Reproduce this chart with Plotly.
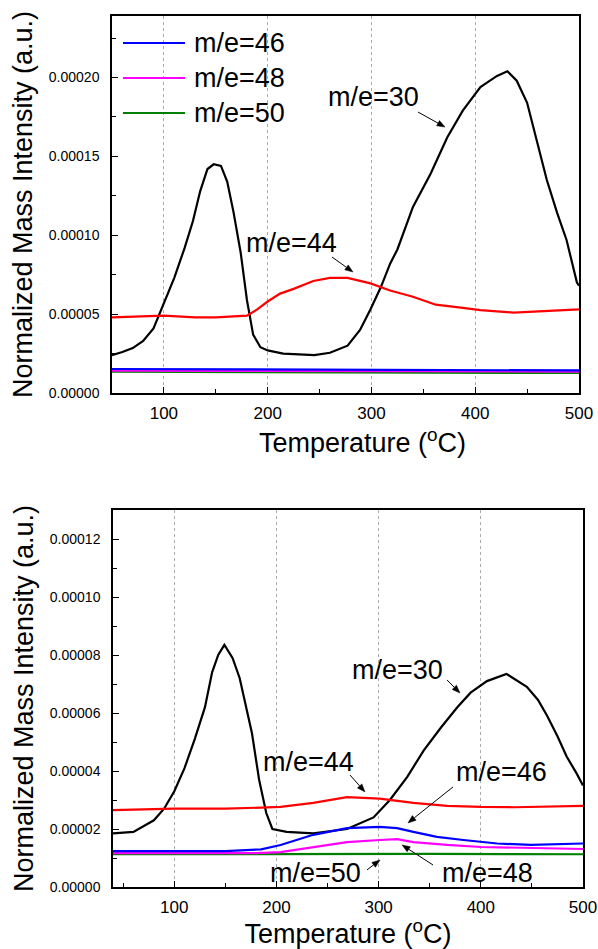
import math
import plotly.graph_objects as go

W, H = 598, 949
FONT = "Arial, 'Liberation Sans', sans-serif"

# ---------------- Top panel data ----------------
top_t30 = [50, 60, 70, 80, 90, 100, 110, 120, 128, 135, 142, 148, 155, 161, 167, 174, 180, 186, 193,
           200, 215, 245, 260, 277, 289, 299, 309, 318, 325, 340, 357, 373, 388, 405, 421, 431, 440,
           450, 460, 469, 479, 488, 498, 500]
top_v30 = [2.4e-5, 2.6e-5, 2.85e-5, 3.3e-5, 4.1e-5, 5.7e-5, 7.3e-5, 9.2e-5, 1.09e-4, 1.28e-4, 1.42e-4,
           1.45e-4, 1.44e-4, 1.34e-4, 1.15e-4, 8.9e-5, 5.9e-5, 3.7e-5, 2.9e-5, 2.7e-5, 2.5e-5, 2.4e-5,
           2.55e-5, 3.0e-5, 4.0e-5, 5.3e-5, 6.7e-5, 8.2e-5, 9.1e-5, 1.18e-4, 1.39e-4, 1.62e-4, 1.79e-4,
           1.94e-4, 2.01e-4, 2.04e-4, 1.98e-4, 1.84e-4, 1.58e-4, 1.35e-4, 1.14e-4, 9.7e-5, 7.0e-5, 6.8e-5]

top_t44 = [50, 100, 130, 150, 180, 190, 200, 212, 225, 244, 260, 277, 299, 318, 340, 362, 388, 405, 437, 469, 500]
top_v44 = [4.8e-5, 4.9e-5, 4.8e-5, 4.8e-5, 4.9e-5, 5.3e-5, 5.8e-5, 6.3e-5, 6.6e-5, 7.1e-5, 7.3e-5,
           7.3e-5, 6.95e-5, 6.5e-5, 6.1e-5, 5.6e-5, 5.4e-5, 5.25e-5, 5.1e-5, 5.2e-5, 5.3e-5]

top_t46 = [50, 200, 350, 500]
top_v46 = [1.52e-5, 1.5e-5, 1.47e-5, 1.43e-5]
top_t48 = [50, 250, 500]
top_v48 = [1.42e-5, 1.40e-5, 1.36e-5]
top_t50 = [50, 250, 500]
top_v50 = [1.35e-5, 1.32e-5, 1.27e-5]

# ---------------- Bottom panel data ----------------
bot_t30 = [40, 60, 80, 90, 100, 110, 120, 130, 137, 143, 149, 157, 164, 170, 176, 183, 190, 196, 210,
           236, 269, 295, 311, 328, 344, 361, 377, 390, 406, 425, 445, 456, 465, 475, 484, 494, 500]
bot_v30 = [1.85e-5, 1.9e-5, 2.3e-5, 2.7e-5, 3.3e-5, 4.1e-5, 5.1e-5, 6.2e-5, 7.4e-5, 8.0e-5, 8.35e-5,
           7.9e-5, 7.2e-5, 6.3e-5, 5.3e-5, 3.7e-5, 2.55e-5, 2.0e-5, 1.9e-5, 1.85e-5, 2.0e-5, 2.4e-5,
           3.0e-5, 3.8e-5, 4.7e-5, 5.5e-5, 6.2e-5, 6.7e-5, 7.1e-5, 7.35e-5, 6.9e-5, 6.45e-5, 5.9e-5,
           5.2e-5, 4.5e-5, 3.9e-5, 3.5e-5]

bot_t44 = [40, 100, 150, 204, 236, 269, 301, 334, 367, 400, 433, 500]
bot_v44 = [2.65e-5, 2.7e-5, 2.7e-5, 2.76e-5, 2.9e-5, 3.1e-5, 3.05e-5, 2.9e-5, 2.8e-5, 2.76e-5, 2.75e-5, 2.8e-5]

bot_t46 = [40, 150, 185, 204, 236, 269, 301, 318, 334, 357, 383, 416, 449, 500]
bot_v46 = [1.24e-5, 1.24e-5, 1.3e-5, 1.45e-5, 1.8e-5, 2.03e-5, 2.07e-5, 2.03e-5, 1.9e-5, 1.73e-5,
           1.62e-5, 1.5e-5, 1.45e-5, 1.5e-5]

bot_t48 = [40, 180, 204, 236, 269, 301, 318, 334, 367, 400, 449, 500]
bot_v48 = [1.17e-5, 1.17e-5, 1.2e-5, 1.38e-5, 1.55e-5, 1.62e-5, 1.65e-5, 1.55e-5, 1.45e-5, 1.38e-5,
           1.34e-5, 1.31e-5]

bot_t50 = [40, 200, 350, 500]
bot_v50 = [1.13e-5, 1.14e-5, 1.14e-5, 1.13e-5]

X_TITLE = "Temperature (<sup>o</sup>C)"
Y_TITLE = "Normalized Mass Intensity (a.u.)"

COL = {"30": "#000000", "44": "#ff0000", "46": "#0000ff", "48": "#ff00ff", "50": "#008000"}

# panel geometry (pixels) and axis ranges
TOP = dict(xdom=(112, 579), ydom=(16, 393), xr=(50, 500), yr=(0, 0.000239))
BOT = dict(xdom=(113, 583), ydom=(510, 887), xr=(40, 500), yr=(0, 0.00013))

fig = go.Figure()

def add(t, v, key, xa, ya):
    fig.add_trace(go.Scatter(x=t, y=v, mode="lines", xaxis=xa, yaxis=ya,
                             line=dict(color=COL[key], width=2.2), name=f"m/e={key}",
                             showlegend=False, hoverinfo="skip"))

add(top_t30, top_v30, "30", "x", "y")
add(top_t44, top_v44, "44", "x", "y")
add(top_t50, top_v50, "50", "x", "y")
add(top_t48, top_v48, "48", "x", "y")
add(top_t46, top_v46, "46", "x", "y")

add(bot_t30, bot_v30, "30", "x2", "y2")
add(bot_t44, bot_v44, "44", "x2", "y2")
add(bot_t50, bot_v50, "50", "x2", "y2")
add(bot_t48, bot_v48, "48", "x2", "y2")
add(bot_t46, bot_v46, "46", "x2", "y2")

big = dict(family=FONT, size=27, color="black")

xcommon = dict(showline=True, linecolor="black", linewidth=1.5, mirror=True,
               ticks="inside", ticklen=6, tickwidth=1, tickcolor="black",
               tickfont=dict(family=FONT, size=17, color="black"),
               showgrid=True, gridcolor="#aaaaaa", griddash="3px,3px", gridwidth=1,
               zeroline=False, tickmode="linear", tick0=0, dtick=100,
               minor=dict(ticks="inside", ticklen=4, tick0=0, dtick=50, tickcolor="black", showgrid=False),
               automargin=False, ticklabelstandoff=4)
ycommon = dict(showline=True, linecolor="black", linewidth=1.5, mirror=True,
               ticks="inside", ticklen=6, tickwidth=1, tickcolor="black",
               tickfont=dict(family=FONT, size=14, color="black"),
               showgrid=False, zeroline=False, tickformat=".5f", tickmode="linear", tick0=0,
               automargin=False, ticklabelstandoff=8,
               title=dict(text=Y_TITLE, font=big, standoff=8))

fig.update_layout(
    width=W, height=H, margin=dict(l=0, r=0, t=0, b=0),
    paper_bgcolor="white", plot_bgcolor="white", showlegend=False,
    xaxis=dict(**xcommon, domain=[TOP["xdom"][0] / W, TOP["xdom"][1] / W], range=list(TOP["xr"]), anchor="y"),
    yaxis=dict(**ycommon, domain=[1 - TOP["ydom"][1] / H, 1 - TOP["ydom"][0] / H], range=list(TOP["yr"]),
               dtick=0.00005,
               minor=dict(ticks="inside", ticklen=4, tick0=0, dtick=0.000025, tickcolor="black"),
               anchor="x"),
    xaxis2=dict(**xcommon, domain=[BOT["xdom"][0] / W, BOT["xdom"][1] / W], range=list(BOT["xr"]),
                anchor="y2", title=dict(text=X_TITLE, font=big, standoff=4)),
    yaxis2=dict(**ycommon, domain=[1 - BOT["ydom"][1] / H, 1 - BOT["ydom"][0] / H], range=list(BOT["yr"]),
                dtick=0.00002,
                minor=dict(ticks="inside", ticklen=4, tick0=0, dtick=0.00001, tickcolor="black"),
                anchor="x2"),
)

ann = []
shapes = []

# top x-axis title (sits slightly right of the panel centre in the reference)
ann.append(dict(text=X_TITLE, xref="paper", yref="paper", x=362 / W, y=1 - 441 / H,
                xanchor="center", yanchor="middle", showarrow=False, font=big))

# labels + arrows (data coordinates)
labels = [
    # text, tx, ty, tail_x, tail_y, tip_x, tip_y, panel
    ("m/e=30", 301.5, 1.877e-4, 344.9, 1.781e-4, 370.9, 1.686e-4, "top"),
    ("m/e=44", 223.4, 9.5e-5, 262.0, 8.62e-5, 282.2, 7.67e-5, "top"),
    ("m/e=30", 318.0, 7.48e-5, 366.9, 7.14e-5, 379.6, 6.69e-5, "bot"),
    ("m/e=44", 230.9, 4.31e-5, 272.0, 3.86e-5, 286.6, 3.28e-5, "bot"),
    ("m/e=46", 420.7, 3.97e-5, 372.8, 3.45e-5, 328.7, 2.21e-5, "bot"),
    ("m/e=48", 407.0, 4.8e-6, 353.2, 7.6e-6, 322.9, 1.45e-5, "bot"),
    ("m/e=50", 237.7, 4.8e-6, 288.6, 5.9e-6, 301.3, 9.3e-6, "bot"),
]

def arrow(p, xr, yr, x0, y0, x1, y1, head=8.0, half=3.0):
    sx = (p["xdom"][1] - p["xdom"][0]) / (p["xr"][1] - p["xr"][0])
    sy = (p["ydom"][1] - p["ydom"][0]) / (p["yr"][1] - p["yr"][0])
    dx = (x1 - x0) * sx
    dy = (y1 - y0) * sy
    L = math.hypot(dx, dy)
    ux, uy = dx / L, dy / L
    nx, ny = -uy, ux
    bx, by = x1 - head * ux / sx, y1 - head * uy / sy
    c1x, c1y = bx + half * nx / sx, by + half * ny / sy
    c2x, c2y = bx - half * nx / sx, by - half * ny / sy
    shapes.append(dict(type="line", xref=xr, yref=yr, x0=x0, y0=y0, x1=bx, y1=by,
                       line=dict(color="black", width=1)))
    shapes.append(dict(type="path", xref=xr, yref=yr,
                       path=f"M {x1},{y1} L {c1x},{c1y} L {c2x},{c2y} Z",
                       fillcolor="black", line=dict(color="black", width=0.5)))

for txt, tx, ty, ax_, ay_, px, py, panel in labels:
    p = TOP if panel == "top" else BOT
    xr, yr = ("x", "y") if panel == "top" else ("x2", "y2")
    ann.append(dict(text=txt, x=tx, y=ty, xref=xr, yref=yr, showarrow=False, font=big,
                    xanchor="center", yanchor="middle"))
    arrow(p, xr, yr, ax_, ay_, px, py)

# manual legend (top panel)
for i, key in enumerate(["46", "48", "50"]):
    yy = 1 - (43 + 35 * i) / H
    shapes.append(dict(type="line", xref="paper", yref="paper", x0=123 / W, x1=185 / W, y0=yy, y1=yy,
                       line=dict(color=COL[key], width=2)))
    ann.append(dict(text=f"m/e={key}", xref="paper", yref="paper", x=192 / W, y=yy,
                    xanchor="left", yanchor="middle", showarrow=False, font=big))

fig.update_layout(annotations=ann, shapes=shapes)

fig.write_html("out.html")
